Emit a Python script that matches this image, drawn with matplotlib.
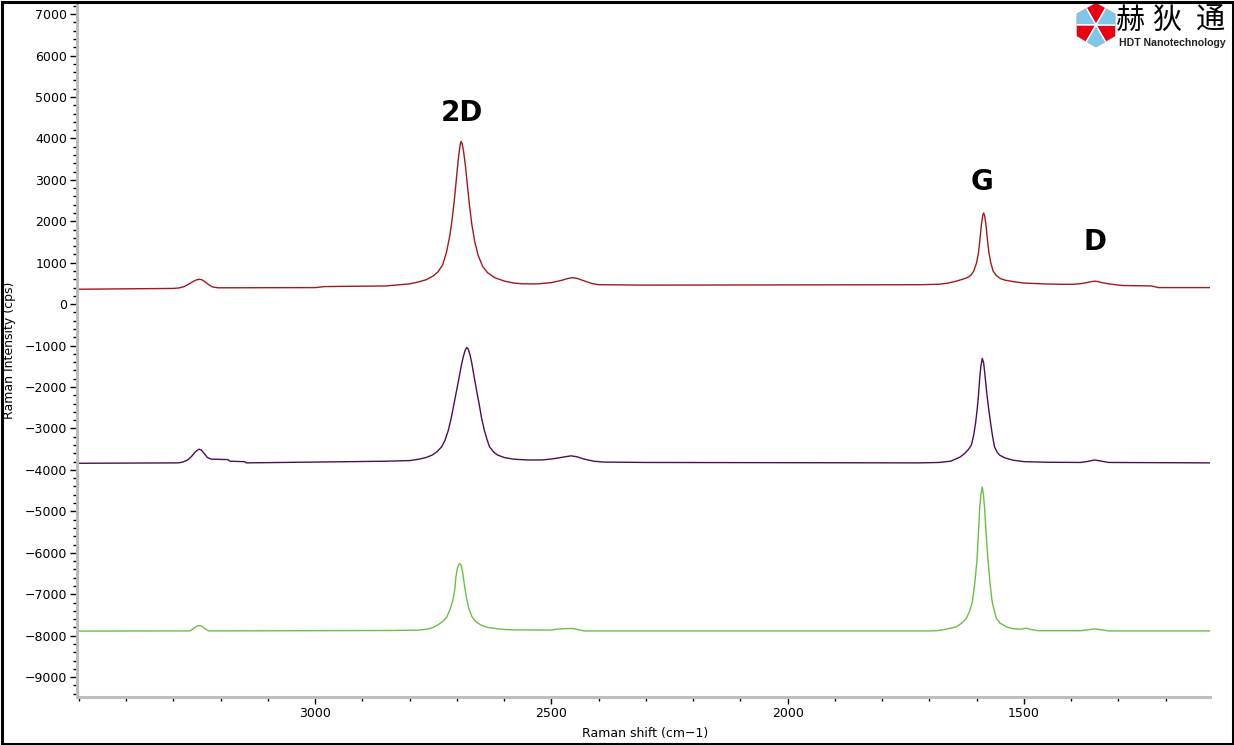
import matplotlib
matplotlib.use("Agg")
import matplotlib.pyplot as plt
from matplotlib.patches import Rectangle, Polygon, Wedge
from matplotlib.ticker import MultipleLocator
import numpy as np

# ---------------- data ----------------
red_x = [3505, 3300, 3288, 3278, 3268, 3258, 3250, 3245, 3240, 3233, 3225, 3217, 3205, 3000, 2980,
         2850, 2820, 2800, 2780, 2765, 2750, 2740, 2730, 2722, 2715, 2710, 2705, 2700, 2696,
         2693, 2691, 2689, 2686, 2682, 2678, 2673, 2668, 2662, 2655, 2645, 2635, 2620, 2600,
         2580, 2560, 2530, 2500, 2480, 2465, 2455, 2445, 2430, 2415, 2400, 2300,
         1720, 1680, 1660, 1645, 1630, 1620, 1612, 1606, 1600, 1596, 1593, 1590, 1587, 1585,
         1583, 1580, 1577, 1574, 1570, 1565, 1559, 1550, 1540, 1520, 1500, 1460, 1420,
         1395, 1380, 1365, 1355, 1350, 1343, 1335, 1320, 1300, 1290, 1230, 1215, 1105]
red_y = [360, 380, 392, 420, 480, 550, 590, 600, 590, 540, 470, 415, 395, 400, 425,
         440, 470, 490, 540, 590, 680, 780, 950, 1250, 1650, 2050, 2550, 3150, 3600,
         3850, 3930, 3880, 3700, 3350, 2900, 2350, 1900, 1500, 1180, 900, 760, 640, 560,
         510, 490, 490, 520, 570, 620, 640, 620, 560, 500, 470, 460,
         470, 480, 510, 550, 600, 640, 700, 800, 1000, 1250, 1550, 1900, 2150, 2200,
         2130, 1900, 1550, 1250, 1000, 800, 700, 620, 580, 540, 510, 490, 480,
         480, 495, 525, 548, 555, 545, 520, 490, 460, 450, 440, 400, 400]

purple_x = [3505, 3290, 3280, 3270, 3262, 3255, 3249, 3245, 3241, 3235, 3228, 3220, 3185, 3180,
            3150, 3145, 2850, 2800, 2780, 2765, 2752, 2742, 2732, 2725, 2718, 2712, 2706, 2700,
            2695, 2690, 2686, 2682, 2679, 2676, 2672, 2668, 2663, 2658, 2653, 2648, 2642, 2636,
            2631, 2622, 2614, 2600, 2580, 2550, 2520, 2495, 2475, 2458, 2445, 2430, 2410, 2390,
            2300, 1720, 1680, 1655, 1645, 1635, 1625, 1617, 1611, 1606, 1602, 1599, 1596, 1593.5,
            1591, 1588, 1585, 1581.5, 1578, 1574, 1570, 1566, 1562, 1556, 1551, 1540, 1523, 1500,
            1450, 1380, 1365, 1350, 1335, 1320, 1105]
purple_y = [-3840, -3830, -3810, -3760, -3680, -3580, -3520, -3500, -3520, -3600, -3700, -3740, -3750, -3790,
            -3800, -3830, -3790, -3775, -3740, -3700, -3640, -3560, -3440, -3280, -3040, -2750, -2400, -2050,
            -1750, -1450, -1250, -1100, -1045, -1080, -1230, -1450, -1780, -2100, -2400, -2730, -3040, -3270,
            -3440, -3570, -3640, -3700, -3740, -3760, -3760, -3730, -3690, -3660, -3685, -3740, -3790, -3810,
            -3820, -3830, -3820, -3790, -3740, -3690, -3600, -3500, -3400, -3150, -2850, -2565, -2200, -1800,
            -1500, -1310, -1420, -1800, -2200, -2565, -2900, -3200, -3450, -3580, -3645, -3710, -3765, -3800,
            -3815, -3820, -3795, -3760, -3790, -3820, -3830]

green_x = [3505, 3265, 3258, 3250, 3245, 3240, 3232, 3225, 2840, 2780, 2765, 2758, 2750, 2741,
           2730, 2721, 2714, 2710, 2707, 2704, 2702, 2699, 2696, 2694, 2691, 2688, 2685, 2680,
           2675, 2668, 2660, 2649, 2635, 2617, 2600, 2580, 2500, 2490, 2470, 2458, 2448, 2441,
           2430, 1700, 1685, 1672, 1655, 1643, 1632, 1622, 1615, 1609, 1604, 1599, 1596, 1593.5,
           1591, 1588, 1585.5, 1583, 1580, 1576, 1571, 1567, 1562, 1558, 1550, 1537, 1525, 1516,
           1505, 1495, 1485, 1470, 1380, 1365, 1350, 1335, 1320, 1105]
green_y = [-7890, -7885, -7830, -7770, -7755, -7770, -7840, -7885, -7875, -7865, -7845, -7830, -7800, -7745,
           -7660, -7545, -7350, -7200, -7065, -6850, -6580, -6380, -6275, -6260, -6300, -6450, -6700, -7065,
           -7330, -7545, -7660, -7745, -7800, -7830, -7850, -7860, -7865, -7845, -7830, -7825, -7840, -7860,
           -7885, -7885, -7880, -7860, -7820, -7787, -7700, -7585, -7420, -7185, -6750, -6150, -5500, -4930,
           -4600, -4410, -4600, -4930, -5500, -6150, -6800, -7185, -7420, -7585, -7700, -7787, -7825, -7840,
           -7840, -7820, -7850, -7880, -7880, -7860, -7835, -7860, -7885, -7885]

x_ticks = [3000, 2500, 2000, 1500]
y_ticks = list(range(-9000, 7001, 1000))
peak_labels = ["2D", "G", "D"]

W, H = 1234, 745
fig = plt.figure(figsize=(W / 100, H / 100), dpi=100)
fig.patch.set_facecolor("white")

ax = fig.add_axes([77 / W, 1 - 697 / H, (1210 - 77) / W, (697 - 5) / H])
ax.plot(red_x, red_y, color="#9E1B1B", lw=1.0)
ax.plot(purple_x, purple_y, color="#4A0F52", lw=1.0)
ax.plot(green_x, green_y, color="#6DBE45", lw=1.0)

ax.set_xlim(3504, 1106)
ax.set_ylim(-9480, 7220)
ax.set_xticks(x_ticks)
ax.set_yticks(y_ticks)
ax.xaxis.set_minor_locator(MultipleLocator(100))
ax.yaxis.set_minor_locator(MultipleLocator(200))
for s in ["top", "right"]:
    ax.spines[s].set_visible(False)
for s in ["left", "bottom"]:
    ax.spines[s].set_color("#BDBDBD")
    ax.spines[s].set_linewidth(2.2)
ax.tick_params(which="major", direction="out", length=5, width=1, color="black",
               labelsize=9, pad=2)
ax.tick_params(which="minor", direction="out", length=3, width=1, color="black")

# peak labels
ax.text(2689, 4609, peak_labels[0], fontsize=20, fontweight="bold", ha="center", va="center")
ax.text(1588, 2944, peak_labels[1], fontsize=20, fontweight="bold", ha="center", va="center")
ax.text(1350, 1496, peak_labels[2], fontsize=20, fontweight="bold", ha="center", va="center")

fig.text(10 / W, 1 - 350 / H, "Raman Intensity (cps)", rotation=90, ha="center", va="center", fontsize=9)
fig.text(645 / W, 1 - 733 / H, "Raman shift (cm\u22121)", ha="center", va="center", fontsize=9)

# logo
lax = fig.add_axes([1072 / W, 1 - 50 / H, 48 / W, 50 / H])
lax.set_xlim(0, 48)
lax.set_ylim(0, 50)
lax.set_aspect("equal")
lax.axis("off")
cx, cy, r = 24, 25, 22
ang = np.deg2rad(np.arange(90, 450, 60))
hexagon = Polygon(np.c_[cx + r * np.cos(ang), cy + r * np.sin(ang)], closed=True,
                  fc="none", ec="#999999", lw=0.6)
lax.add_patch(hexagon)
cols = ["#E60012", "#7FC7EA"]
for i, a0 in enumerate(range(60, 420, 60)):
    w = Wedge((cx, cy), r * 1.2, a0, a0 + 60, fc=cols[i % 2], ec="white", lw=1.0)
    lax.add_patch(w)
    w.set_clip_path(hexagon)
for ch, px in zip("赫狄通", [1130, 1167, 1210]):
    fig.text(px / W, 1 - 21 / H, ch, fontsize=21, ha="center", va="center",
             family=["Noto Sans CJK SC", "DejaVu Sans"], color="black")
fig.text(1172 / W, 1 - 43 / H, "HDT Nanotechnology", fontsize=7.6, fontweight="bold",
         family="Liberation Sans", ha="center", va="center", color="#222222")

# figure border
fig.patches.append(Rectangle((1.5 / W, 1.5 / H), (W - 3) / W, (H - 3) / H, transform=fig.transFigure,
                             fill=False, ec="black", lw=2.2))

fig.savefig("out.png", dpi=100)
